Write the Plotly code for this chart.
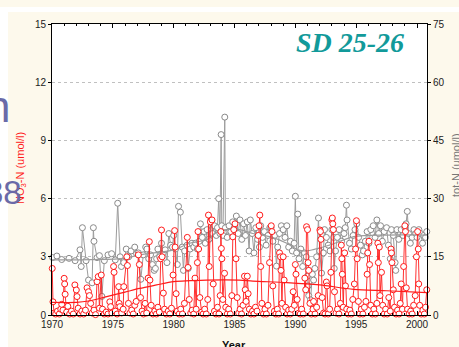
import plotly.graph_objects as go

# ---- NO3-N surface samples (umol/l), left axis ----
no3_time = [
    1970.02, 1970.08, 1970.18, 1970.30, 1970.45, 1970.60, 1970.72, 1970.80, 1970.90,
    1971.00, 1971.04, 1971.08, 1971.20, 1971.30, 1971.45, 1971.60, 1971.75, 1971.88,
    1972.00, 1972.06, 1972.15, 1972.30, 1972.45, 1972.60, 1972.75, 1972.88,
    1973.00, 1973.08, 1973.18, 1973.30, 1973.45, 1973.58, 1973.70, 1973.80, 1973.90,
    1974.05, 1974.15, 1974.30, 1974.45, 1974.60, 1974.75, 1974.82, 1974.92,
    1975.06, 1975.10, 1975.20, 1975.35, 1975.48, 1975.52, 1975.58, 1975.72, 1975.85, 1975.90,
    1976.15, 1976.20, 1976.28, 1976.40, 1976.55, 1976.68, 1976.80, 1976.92,
    1977.10, 1977.18, 1977.28, 1977.40, 1977.52, 1977.65, 1977.78, 1977.90,
    1978.00, 1978.05, 1978.15, 1978.30, 1978.45, 1978.58, 1978.70, 1978.82, 1978.93,
    1979.00, 1979.05, 1979.15, 1979.25, 1979.40, 1979.55, 1979.68, 1979.82, 1979.95,
    1980.08, 1980.12, 1980.20, 1980.30, 1980.45, 1980.58, 1980.72, 1980.88,
    1981.12, 1981.18, 1981.28, 1981.40, 1981.52, 1981.65, 1981.75, 1981.85, 1981.95,
    1982.00, 1982.05, 1982.15, 1982.30, 1982.42, 1982.55, 1982.68, 1982.80, 1982.86, 1982.92,
    1983.02, 1983.15, 1983.25, 1983.35, 1983.48, 1983.60, 1983.72, 1983.82, 1983.88, 1983.92, 1983.96,
    1984.04, 1984.18, 1984.28, 1984.40, 1984.52, 1984.65, 1984.78, 1984.86, 1984.94,
    1985.04, 1985.12, 1985.22, 1985.34, 1985.46, 1985.58, 1985.70, 1985.82, 1985.88, 1985.95,
    1986.05, 1986.12, 1986.22, 1986.35, 1986.48, 1986.60, 1986.72, 1986.85, 1986.95,
    1987.02, 1987.08, 1987.15, 1987.25, 1987.38, 1987.50, 1987.62, 1987.75, 1987.88,
    1988.02, 1988.08, 1988.15, 1988.28, 1988.40, 1988.52, 1988.62, 1988.70, 1988.78, 1988.82, 1988.90,
    1989.00, 1989.08, 1989.20, 1989.32, 1989.45, 1989.58, 1989.70, 1989.82, 1989.92,
    1990.00, 1990.05, 1990.15, 1990.28, 1990.40, 1990.52, 1990.65, 1990.78, 1990.85, 1990.92,
    1991.00, 1991.05, 1991.10, 1991.20, 1991.32, 1991.45, 1991.50, 1991.62, 1991.75, 1991.88,
    1992.02, 1992.06, 1992.10, 1992.20, 1992.32, 1992.44, 1992.55, 1992.60, 1992.70, 1992.82, 1992.92,
    1993.00, 1993.04, 1993.08, 1993.12, 1993.22, 1993.34, 1993.46, 1993.58, 1993.70, 1993.78, 1993.82, 1993.86, 1993.94,
    1994.05, 1994.12, 1994.22, 1994.35, 1994.48, 1994.60, 1994.72, 1994.85, 1994.95,
    1995.02, 1995.08, 1995.18, 1995.30, 1995.42, 1995.55, 1995.68, 1995.80, 1995.90, 1995.95,
    1996.05, 1996.10, 1996.20, 1996.32, 1996.45, 1996.58, 1996.70, 1996.78, 1996.82, 1996.90, 1996.96,
    1997.08, 1997.18, 1997.30, 1997.42, 1997.55, 1997.68, 1997.80, 1997.86, 1997.90, 1997.94,
    1998.05, 1998.15, 1998.28, 1998.40, 1998.52, 1998.62, 1998.70, 1998.80, 1998.90,
    1999.00, 1999.05, 1999.12, 1999.22, 1999.35, 1999.48, 1999.60, 1999.72, 1999.85, 1999.95,
    2000.05, 2000.10, 2000.14, 2000.22, 2000.35, 2000.48, 2000.60, 2000.70, 2000.80,
]
no3_value = [
    2.40, 0.68, 0.10, 0.05, 0.20, 0.05, 0.30, 0.55, 0.25,
    1.89, 1.60, 1.07, 0.15, 0.45, 0.05, 0.20, 0.05, 1.55,
    1.29, 0.95, 0.35, 0.05, 0.20, 0.05, 0.25, 1.40,
    1.20, 1.00, 0.60, 0.10, 0.25, 0.02, 1.72, 1.98, 0.35,
    2.06, 0.30, 0.05, 0.15, 0.05, 0.68, 0.43, 0.10,
    2.50, 2.20, 0.20, 0.05, 1.46, 0.60, 0.43, 0.10, 0.30, 1.46,
    3.00, 2.55, 0.60, 0.10, 0.25, 0.05, 0.50, 0.70,
    3.10, 2.60, 0.90, 0.20, 0.05, 0.60, 0.10, 1.90,
    3.78, 1.80, 0.50, 0.05, 0.20, 0.05, 0.40, 0.15, 2.90,
    4.38, 3.00, 1.13, 0.30, 0.05, 0.20, 0.05, 0.35, 2.06,
    4.35, 3.50, 1.10, 0.20, 0.05, 0.30, 0.05, 0.60,
    4.00, 2.45, 0.80, 0.10, 0.25, 0.05, 1.90, 0.30, 2.70,
    4.30, 3.40, 0.90, 0.15, 0.05, 0.30, 0.05, 0.80, 5.15, 2.50,
    4.80, 4.90, 1.60, 0.20, 0.05, 0.40, 0.05, 1.00, 4.30, 3.43, 2.90,
    0.80, 2.15, 0.40, 0.05, 0.30, 0.05, 1.00, 4.03, 4.40,
    4.70, 2.90, 0.90, 0.10, 0.30, 0.05, 0.50, 2.00, 1.30, 0.70,
    2.00, 1.10, 0.30, 0.05, 0.20, 0.05, 0.40, 0.20, 4.10,
    4.60, 5.15, 2.50, 0.60, 0.05, 0.30, 0.05, 0.50, 2.70,
    4.60, 4.30, 1.50, 0.20, 0.05, 0.30, 0.05, 3.20, 3.00, 2.30, 0.60,
    3.00, 1.80, 0.40, 0.05, 0.25, 0.05, 0.30, 1.20, 0.50,
    2.60, 2.10, 0.80, 0.10, 0.05, 0.30, 0.05, 1.90, 1.30, 4.55,
    4.40, 2.70, 2.30, 0.60, 0.05, 0.30, 0.70, 0.05, 0.40, 1.00,
    4.38, 4.30, 3.90, 0.90, 0.10, 0.05, 1.70, 1.50, 0.05, 0.30, 2.20,
    4.90, 5.00, 4.70, 4.40, 1.20, 0.10, 0.30, 0.05, 0.60, 3.60, 2.90, 2.10, 0.40,
    3.20, 1.50, 0.30, 0.05, 0.25, 0.05, 0.80, 1.60, 3.40,
    4.86, 2.90, 0.70, 0.05, 0.30, 0.05, 0.40, 0.70, 2.10, 3.20,
    3.80, 2.60, 0.50, 0.05, 0.30, 0.05, 0.60, 3.70, 2.70, 3.50, 1.00,
    2.20, 0.50, 0.05, 0.30, 0.05, 0.90, 0.20, 3.40, 3.20, 2.70,
    1.30, 0.40, 0.05, 0.25, 0.05, 0.60, 1.60, 0.30, 2.50,
    4.60, 4.30, 1.40, 0.30, 0.05, 0.20, 0.05, 0.50, 1.00, 3.00,
    4.30, 3.40, 1.60, 0.50, 0.05, 0.25, 0.05, 0.40, 1.30,
]

# ---- total nitrogen samples (umol/l), right axis ----
totn_time = [
    1970.05, 1970.40, 1970.80,
    1971.40, 1971.90,
    1972.30, 1972.40, 1972.50, 1972.80,
    1973.00, 1973.30, 1973.40, 1973.45, 1973.70, 1973.90,
    1974.10, 1974.30, 1974.60, 1974.90,
    1975.20, 1975.40, 1975.60, 1975.70, 1975.90,
    1976.10, 1976.30, 1976.50, 1976.80, 1976.95,
    1977.10, 1977.30, 1977.50, 1977.70, 1977.80, 1977.95,
    1978.10, 1978.25, 1978.40, 1978.50, 1978.60, 1978.70, 1978.85,
    1979.00, 1979.15, 1979.30, 1979.45, 1979.60, 1979.75, 1979.90,
    1980.00, 1980.15, 1980.30, 1980.40, 1980.55, 1980.70, 1980.80, 1980.90,
    1981.10, 1981.20, 1981.35, 1981.50, 1981.65, 1981.80, 1981.95,
    1982.10, 1982.20, 1982.35, 1982.50, 1982.60, 1982.75, 1982.90,
    1983.05, 1983.20, 1983.35, 1983.50, 1983.60, 1983.70, 1983.80, 1983.90, 1983.95,
    1984.05, 1984.20, 1984.25, 1984.40, 1984.55, 1984.70, 1984.85,
    1985.00, 1985.15, 1985.30, 1985.45, 1985.60, 1985.75, 1985.90,
    1986.05, 1986.20, 1986.30, 1986.45, 1986.60, 1986.75, 1986.90,
    1987.05, 1987.15, 1987.30, 1987.45, 1987.60, 1987.75, 1987.90,
    1988.00, 1988.15, 1988.30, 1988.45, 1988.55, 1988.70, 1988.85,
    1989.00, 1989.15, 1989.30, 1989.45, 1989.60, 1989.75, 1989.90,
    1990.00, 1990.10, 1990.20, 1990.30, 1990.45, 1990.60, 1990.75, 1990.90,
    1991.00, 1991.05, 1991.10, 1991.25, 1991.40, 1991.50, 1991.60, 1991.75, 1991.90,
    1992.00, 1992.15, 1992.30, 1992.40, 1992.55, 1992.70, 1992.85,
    1993.00, 1993.15, 1993.20, 1993.30, 1993.45, 1993.60, 1993.80,
    1994.00, 1994.10, 1994.20, 1994.25, 1994.45, 1994.60, 1994.75, 1994.90,
    1995.05, 1995.20, 1995.35, 1995.50, 1995.60, 1995.75, 1995.90,
    1996.05, 1996.20, 1996.40, 1996.55, 1996.70, 1996.85,
    1997.00, 1997.15, 1997.30, 1997.50, 1997.65, 1997.80, 1997.90,
    1998.05, 1998.20, 1998.25, 1998.35, 1998.50, 1998.70, 1998.85,
    1999.00, 1999.10, 1999.20, 1999.30, 1999.45, 1999.60, 1999.75, 1999.90,
    2000.00, 2000.15, 2000.30, 2000.45, 2000.55, 2000.70, 2000.80,
]
totn_value = [
    14.8, 15.2, 14.3,
    14.6, 14.0,
    16.8, 12.5, 22.5, 14.0,
    9.0, 8.3, 22.5, 19.0, 14.8, 15.3,
    4.8, 14.0, 15.5, 15.8,
    14.2, 28.8, 15.0, 12.5, 13.5,
    17.0, 15.0, 16.5, 17.5, 15.8,
    16.0, 9.2, 15.5, 17.5, 17.0, 14.5,
    15.5, 13.0, 11.5, 12.0, 14.5, 17.0, 15.0,
    18.5, 16.0, 16.8, 13.5, 21.0, 18.0, 17.5,
    20.5, 17.0, 13.0, 28.0, 26.5, 17.5, 11.5, 16.5,
    18.0, 12.0, 17.0, 18.5, 17.5, 18.5, 17.0,
    19.0, 23.5, 20.0, 21.5, 18.5, 22.0, 19.5,
    24.5, 21.0, 23.0, 20.5, 22.5, 30.0, 21.0, 46.5, 23.0,
    20.5, 51.0, 22.5, 20.0, 23.0, 21.5, 24.0,
    22.0, 25.5, 21.0, 24.5, 19.5, 23.5, 20.5,
    24.0, 16.5, 24.5, 21.0, 16.0, 22.5, 19.5,
    17.5, 23.0, 20.0, 21.5, 18.0, 20.5, 22.5,
    22.5, 19.0, 20.5, 12.6, 17.5, 21.0, 23.0,
    22.0, 20.0, 23.0, 17.5, 19.0, 16.5, 18.5,
    30.6, 16.0, 26.0, 14.5, 17.0, 12.5, 16.0, 15.0,
    10.0, 7.5, 5.0, 3.9, 10.5, 9.0, 12.0, 15.0, 25.0,
    16.5, 10.8, 16.0, 22.0, 20.0, 18.0, 16.5,
    22.0, 20.0, 12.0, 16.5, 20.0, 22.0, 19.0,
    21.0, 22.5, 28.3, 24.5, 18.5, 17.0, 20.5, 22.0,
    23.5, 20.0, 18.0, 15.5, 16.5, 19.0, 21.5,
    18.5, 22.0, 23.0, 20.0, 24.5, 21.0,
    23.0, 19.0, 21.5, 22.5, 18.0, 14.5, 22.0,
    20.5, 13.5, 11.5, 22.0, 19.5, 22.0, 20.5,
    22.5, 23.5, 26.7, 21.0, 18.5, 20.0, 22.0, 21.0,
    20.0, 22.0, 21.0, 18.5, 20.5, 20.0, 21.5,
]

# ---- smoothed trends ----
no3_trend_time = [1970.0, 1972.0, 1973.0, 1974.5, 1976.0, 1977.2, 1978.6, 1980.0,
                  1982.7, 1985.4, 1986.5, 1989.3, 1992.0, 1994.8, 1997.5, 2000.8]
no3_trend_value = [0.65, 0.65, 0.72, 0.95, 1.18, 1.37, 1.55, 1.72,
                   1.80, 1.80, 1.75, 1.67, 1.55, 1.32, 1.25, 1.15]
totn_trend_time = [1970.0, 1975.9, 1977.2, 1980.0, 1981.3, 1982.7, 1983.8, 1985.4,
                   1986.5, 1987.9, 1989.3, 1990.2, 1990.9, 1992.8, 1994.8, 1997.5, 2000.8]
totn_trend_value = [14.2, 14.6, 15.5, 16.8, 18.5, 19.4, 21.7, 22.0,
                    21.0, 20.2, 18.5, 16.8, 16.5, 18.0, 20.2, 20.6, 20.6]

x_ticks = [1970, 1975, 1980, 1985, 1990, 1995, 2000]

RED = "#ff1a1a"
GREY_LINE = "#9c9c9c"
GREY_MARK = "#8a8a8a"
CREAM = "#fdf9ec"

W, H = 459, 347
L, R, T, B = 52, 32, 24, 32
PW, PH = W - L - R, H - T - B


def px(x):
    return (x - L) / PW


def py(y):
    return (H - B - y) / PH


fig = go.Figure()

fig.add_trace(go.Scatter(
    x=totn_time, y=totn_value, yaxis="y", mode="lines+markers",
    line=dict(color=GREY_LINE, width=1),
    marker=dict(symbol="circle", size=6, color="white",
                line=dict(color=GREY_MARK, width=1)),
    cliponaxis=False, showlegend=False))
fig.add_trace(go.Scatter(
    x=totn_trend_time, y=totn_trend_value, yaxis="y", mode="lines",
    line=dict(color=GREY_LINE, width=1.2, shape="spline", smoothing=0.8),
    showlegend=False))
fig.add_trace(go.Scatter(
    x=no3_time, y=no3_value, yaxis="y2", mode="lines+markers",
    line=dict(color=RED, width=0.9),
    marker=dict(symbol="circle", size=6, color="white",
                line=dict(color=RED, width=1)),
    cliponaxis=False, showlegend=False))
fig.add_trace(go.Scatter(
    x=no3_trend_time, y=no3_trend_value, yaxis="y2", mode="lines",
    line=dict(color=RED, width=1.2, shape="spline", smoothing=0.8),
    showlegend=False))

tickfont = dict(family="Liberation Sans, Arial, sans-serif", size=10, color="#222")

fig.update_layout(
    width=W, height=H,
    margin=dict(l=L, r=R, t=T, b=B, pad=0),
    paper_bgcolor=CREAM, plot_bgcolor="white",
    xaxis=dict(range=[1970, 2000.82], tickvals=x_ticks, ticks="inside",
               ticklen=4, tickcolor="#000",
               minor=dict(dtick=1, ticks="inside", ticklen=2, tickcolor="#000"),
               showline=True, linecolor="#000", linewidth=1, mirror="ticks",
               showgrid=False, zeroline=False, tickfont=tickfont),
    yaxis=dict(range=[0, 75], tickvals=[0, 15, 30, 45, 60, 75], side="right",
               ticks="outside", ticklen=3, tickcolor="#000",
               showline=True, linecolor="#000", linewidth=1,
               showgrid=True, gridcolor="#c0c0c0", griddash="dot", gridwidth=1,
               zeroline=False, tickfont=tickfont),
    yaxis2=dict(range=[0, 15], tickvals=[0, 3, 6, 9, 12, 15], side="left",
                overlaying="y", ticks="outside", ticklen=3, tickcolor="#000",
                showline=True, linecolor="#000", linewidth=1,
                showgrid=False, zeroline=False, tickfont=tickfont),
    shapes=[
        # white slide margin on the left and thin white strip at the top
        dict(type="rect", xref="paper", yref="paper", layer="below",
             x0=px(0), x1=px(8), y0=py(H), y1=py(12),
             fillcolor="white", line=dict(width=0)),
        dict(type="rect", xref="paper", yref="paper", layer="below",
             x0=px(0), x1=px(W), y0=py(12), y1=py(7),
             fillcolor="white", line=dict(width=0)),
    ],
    annotations=[
        dict(text="<b><i>SD 25-26</i></b>", xref="paper", yref="paper",
             x=px(350), y=py(42), xanchor="center", yanchor="middle",
             showarrow=False,
             font=dict(family="Liberation Serif, Times New Roman, serif",
                       size=28, color="#129a9a")),
        dict(text="NO<sub>3</sub>-N (umol/l)", xref="paper", yref="paper",
             x=px(21), y=py(168), xanchor="center", yanchor="middle",
             textangle=-90, showarrow=False,
             font=dict(family="Liberation Sans, Arial, sans-serif",
                       size=11, color=RED)),
        dict(text="tot-N (umol/l)", xref="paper", yref="paper",
             x=px(456), y=py(165), xanchor="center", yanchor="middle",
             textangle=-90, showarrow=False,
             font=dict(family="Liberation Sans, Arial, sans-serif",
                       size=11, color="#777")),
        dict(text="<b>Year</b>", xref="paper", yref="paper",
             x=px(234), y=py(345), xanchor="center", yanchor="middle",
             showarrow=False,
             font=dict(family="Liberation Sans, Arial, sans-serif",
                       size=11, color="#111")),
        dict(text="n", xref="paper", yref="paper",
             x=px(12), y=py(106), xanchor="right", yanchor="middle",
             showarrow=False,
             font=dict(family="Liberation Sans, Arial, sans-serif",
                       size=44, color="#6a6aa8")),
        dict(text="38", xref="paper", yref="paper",
             x=px(24), y=py(193), xanchor="right", yanchor="middle",
             showarrow=False,
             font=dict(family="Liberation Sans, Arial, sans-serif",
                       size=33, color="#6a6aa8")),
    ],
)

fig.write_html("out.html")
